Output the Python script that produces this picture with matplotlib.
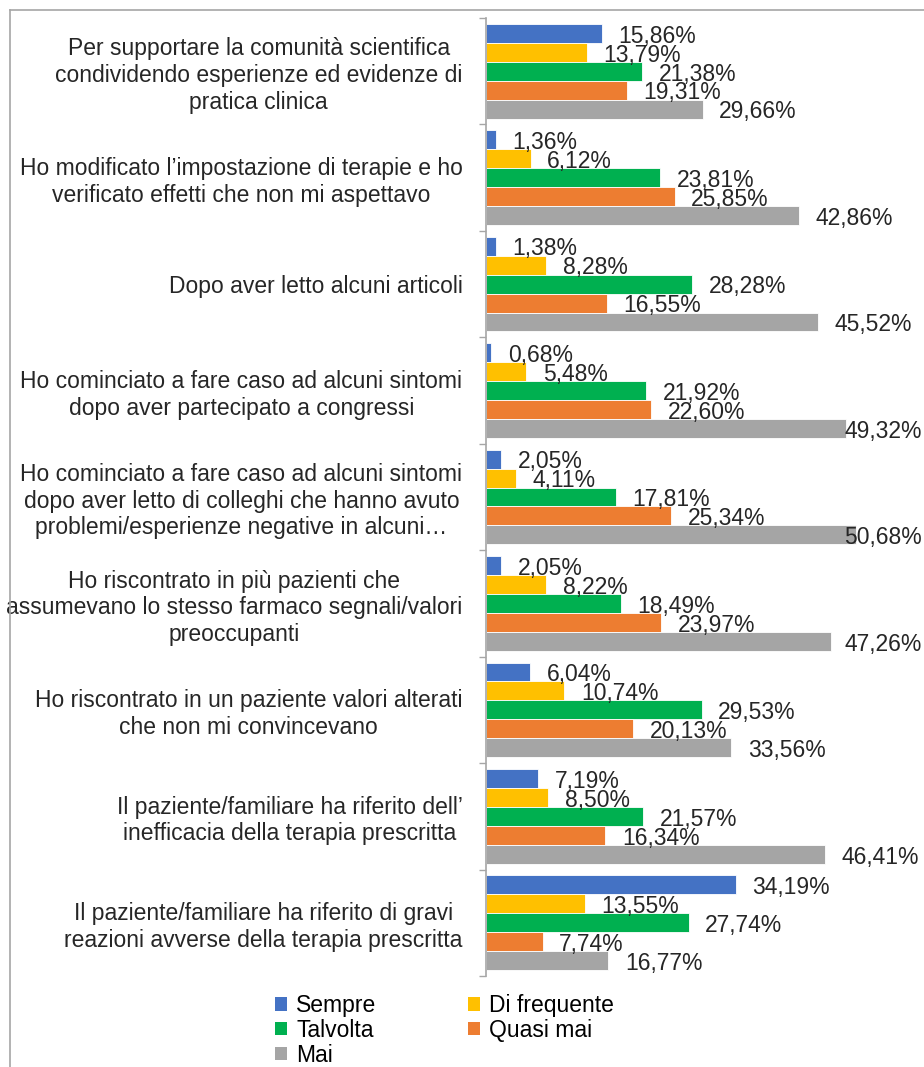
import matplotlib
matplotlib.use("Agg")
import matplotlib.pyplot as plt
import numpy as np
from matplotlib.lines import Line2D
from matplotlib.patches import Patch

plt.rcParams['font.family'] = ['Liberation Sans', 'DejaVu Sans']

categories = [
    "Per supportare la comunità scientifica\ncondividendo esperienze ed evidenze di\npratica clinica",
    "Ho modificato l’impostazione di terapie e ho\nverificato effetti che non mi aspettavo",
    "Dopo aver letto alcuni articoli",
    "Ho cominciato a fare caso ad alcuni sintomi\ndopo aver partecipato a congressi",
    "Ho cominciato a fare caso ad alcuni sintomi\ndopo aver letto di colleghi che hanno avuto\nproblemi/esperienze negative in alcuni…",
    "Ho riscontrato in più pazienti che\nassumevano lo stesso farmaco segnali/valori\npreoccupanti",
    "Ho riscontrato in un paziente valori alterati\nche non mi convincevano",
    "Il paziente/familiare ha riferito dell’\ninefficacia della terapia prescritta",
    "Il paziente/familiare ha riferito di gravi\nreazioni avverse della terapia prescritta",
]

series_names = ["Sempre", "Di frequente", "Talvolta", "Quasi mai", "Mai"]

sempre = [15.86, 1.36, 1.38, 0.68, 2.05, 2.05, 6.04, 7.19, 34.19]
di_frequente = [13.79, 6.12, 8.28, 5.48, 4.11, 8.22, 10.74, 8.50, 13.55]
talvolta = [21.38, 23.81, 28.28, 21.92, 17.81, 18.49, 29.53, 21.57, 27.74]
quasi_mai = [19.31, 25.85, 16.55, 22.60, 25.34, 23.97, 20.13, 16.34, 7.74]
mai = [29.66, 42.86, 45.52, 49.32, 50.68, 47.26, 33.56, 46.41, 16.77]

series_values = [sempre, di_frequente, talvolta, quasi_mai, mai]
colors = ["#4472C4", "#FFC000", "#00B050", "#ED7D31", "#A5A5A5"]

W, H = 924, 1067
fig = plt.figure(figsize=(W / 100, H / 100), dpi=100)
ax = fig.add_axes([486 / W, 1 - 976 / H, 1 - 486 / W, (976 - 18) / H])

n_cat = len(categories)
y = np.arange(n_cat)
bar_h = 0.178
fs = 16.5

texts = []
for i, (name, vals, col) in enumerate(zip(series_names, series_values, colors)):
    offs = (i - 2) * bar_h
    ax.barh(y + offs, vals, height=bar_h, color=col, edgecolor="white",
            linewidth=0.6, label=name)
    for yy, v in zip(y + offs, vals):
        t = ax.annotate(f"{v:.2f}%".replace(".", ","), xy=(v, yy),
                        xytext=(12, -2), textcoords="offset points",
                        ha="left", va="center", fontsize=fs, color="#262626")
        texts.append(t)

ax.set_xlim(0, 60)
ax.set_ylim(n_cat - 0.5, -0.5)
ax.set_yticks(y)
ax.set_yticklabels(categories, fontsize=fs, color="#262626",
                   multialignment="center", linespacing=1.2)
ax.set_yticks(np.arange(n_cat + 1) - 0.5, minor=True)
ax.tick_params(axis="y", which="major", length=0, pad=17)
ax.tick_params(axis="y", which="minor", length=5, color="#A6A6A6", width=1)
ax.set_xticks([])
for s in ["top", "right", "bottom"]:
    ax.spines[s].set_visible(False)
ax.spines["left"].set_color("#A6A6A6")
ax.spines["left"].set_linewidth(1.2)

# keep value labels inside the figure
fig.canvas.draw()
renderer = fig.canvas.get_renderer()
for t in texts:
    bb = t.get_window_extent(renderer)
    if bb.x1 > W - 2:
        t.set_position((t.xyann[0] - (bb.x1 - (W - 2)) * 72 / 100, t.xyann[1]))

# legend, filled row by row
order = [0, 2, 4, 1, 3]
handles = [Patch(facecolor=colors[k], edgecolor="none") for k in order]
labels = [series_names[k] for k in order]
fig.legend(handles, labels, loc="upper left",
           bbox_to_anchor=(275 / W, 1 - 994 / H), ncol=2, frameon=False,
           fontsize=fs, handlelength=0.52, handleheight=0.52,
           handletextpad=0.4, columnspacing=4.0, labelspacing=0.08,
           borderpad=0, borderaxespad=0)

# outer frame lines
fig.add_artist(Line2D([10 / W, 1], [1 - 10 / H, 1 - 10 / H],
                      transform=fig.transFigure, color="#A6A6A6", lw=1.2))
fig.add_artist(Line2D([10 / W, 10 / W], [0, 1 - 10 / H],
                      transform=fig.transFigure, color="#A6A6A6", lw=1.2))

fig.savefig("out.png", dpi=100)
